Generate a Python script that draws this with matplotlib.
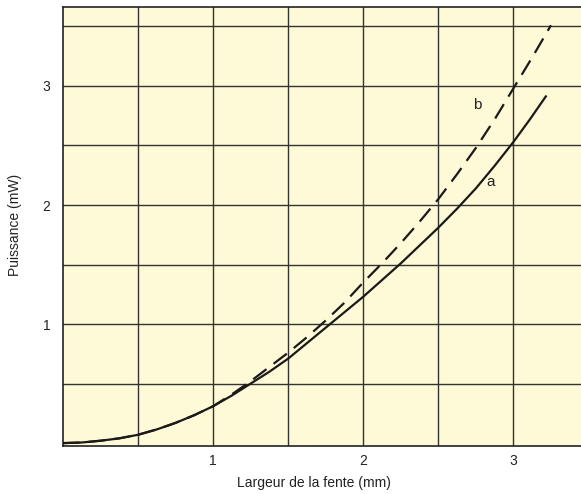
import numpy as np
import matplotlib.pyplot as plt

plt.rcParams['font.family'] = ['Liberation Sans', 'DejaVu Sans']

## courbe a (trait plein)
xa = [0.0, 0.125, 0.25, 0.375, 0.5, 0.625, 0.75, 0.875, 1.0, 1.125, 1.25, 1.375, 1.5,
      1.625, 1.75, 1.875, 2.0, 2.125, 2.25, 2.375, 2.5, 2.625, 2.75, 2.875, 3.0, 3.11, 3.22]
ya = [0.0, 0.005, 0.02, 0.04, 0.07, 0.115, 0.17, 0.235, 0.31, 0.40, 0.50, 0.60, 0.71,
      0.84, 0.97, 1.10, 1.23, 1.37, 1.51, 1.66, 1.81, 1.97, 2.14, 2.33, 2.53, 2.72, 2.92]

## courbe b (tirets)
xb = [0.0, 0.125, 0.25, 0.375, 0.5, 0.625, 0.75, 0.875, 1.0, 1.125, 1.25, 1.375, 1.5,
      1.625, 1.75, 1.875, 2.0, 2.125, 2.25, 2.375, 2.5, 2.625, 2.75, 2.875, 3.0, 3.125, 3.25]
yb = [0.0, 0.005, 0.02, 0.04, 0.07, 0.115, 0.17, 0.235, 0.31, 0.41, 0.52, 0.64, 0.76,
      0.89, 1.03, 1.18, 1.35, 1.51, 1.68, 1.86, 2.05, 2.26, 2.48, 2.72, 2.98, 3.24, 3.51]

xticks = [1, 2, 3]
yticks = [1, 2, 3]

fig = plt.figure(figsize=(5.81, 4.94), dpi=100)
ax = fig.add_axes([0.1084, 0.097, 0.8916, 0.888])
ax.set_facecolor('#fef9d6')

# grille tous les 0.5
for gx in np.arange(0.5, 3.5, 0.5):
    ax.axvline(gx, color='#333333', lw=1.0, zorder=1)
for gy in np.arange(0.5, 3.6, 0.5):
    ax.axhline(gy, color='#333333', lw=1.0, zorder=1)

ax.plot(xa, ya, color='#1a1a1a', lw=1.6, zorder=3, solid_capstyle='butt')
ax.plot(xb, yb, color='#1a1a1a', lw=1.6, dashes=(7.5, 4.0), zorder=3)

ax.text(2.76, 2.84, 'b', fontsize=11, color='#222222', ha='center', va='center')
ax.text(2.85, 2.19, 'a', fontsize=11, color='#222222', ha='center', va='center')

ax.set_xlim(0, 3.45)
ax.set_ylim(-0.025, 3.66)
ax.set_xticks(xticks)
ax.set_yticks(yticks)
ax.tick_params(length=0, labelsize=10, colors='#222222')
ax.tick_params(axis='x', pad=6)
ax.tick_params(axis='y', pad=9)

for s in ['left', 'bottom', 'top']:
    ax.spines[s].set_color('#222222')
    ax.spines[s].set_linewidth(1.2)
ax.spines['right'].set_visible(False)

fig.text(0.54, 0.022, 'Largeur de la fente (mm)', fontsize=10, color='#222222',
         ha='center', va='center')
fig.text(0.026, 0.545, 'Puissance (mW)', fontsize=10, color='#222222',
         ha='center', va='center', rotation=90)

fig.savefig('out.png', dpi=100)
